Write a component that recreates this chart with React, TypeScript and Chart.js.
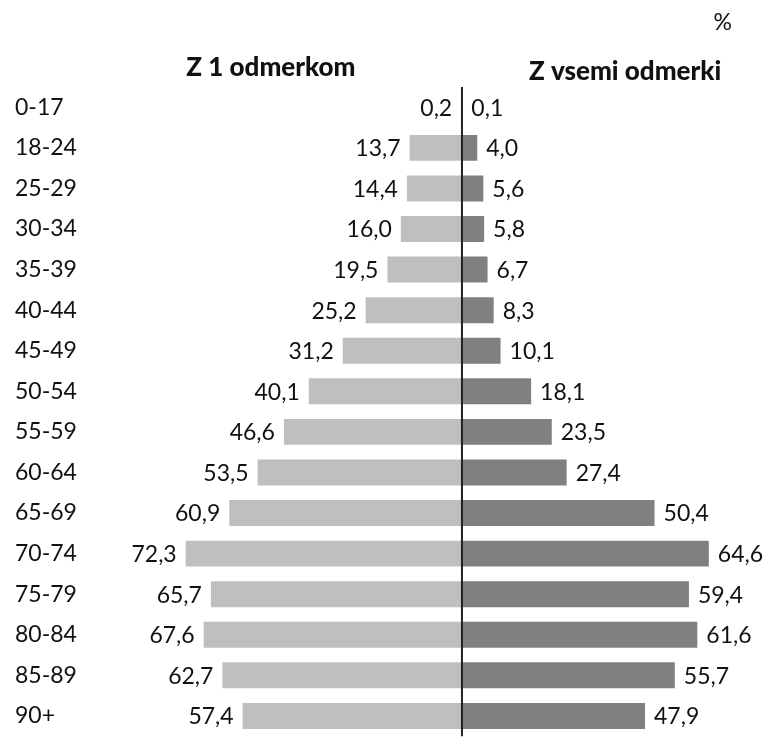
import React, { useEffect, useRef } from "react";
import { Chart, registerables } from "chart.js";

Chart.register(...registerables);

const categories = [
  "0-17", "18-24", "25-29", "30-34", "35-39", "40-44", "45-49", "50-54",
  "55-59", "60-64", "65-69", "70-74", "75-79", "80-84", "85-89", "90+",
];
const oneDose = [0.2, 13.7, 14.4, 16.0, 19.5, 25.2, 31.2, 40.1, 46.6, 53.5, 60.9, 72.3, 65.7, 67.6, 62.7, 57.4];
const allDoses = [0.1, 4.0, 5.6, 5.8, 6.7, 8.3, 10.1, 18.1, 23.5, 27.4, 50.4, 64.6, 59.4, 61.6, 55.7, 47.9];
const leftTitle = "Z 1 odmerkom";
const rightTitle = "Z vsemi odmerki";
const unitLabel = "%";

const FONT = "Lato, 'Noto Sans', sans-serif";

const fmt = (v: number) => v.toFixed(1).replace(".", ",");

const annotPlugin = {
  id: "annot",
  afterDatasetsDraw(chart: any) {
    const { ctx, chartArea, scales } = chart;
    ctx.save();
    // center line
    const x0 = scales.x.getPixelForValue(0);
    ctx.strokeStyle = "#222";
    ctx.lineWidth = 2;
    ctx.beginPath();
    ctx.moveTo(x0, chartArea.top);
    ctx.lineTo(x0, chartArea.bottom);
    ctx.stroke();

    // value labels
    ctx.font = `23px ${FONT}`;
    ctx.fillStyle = "#111";
    ctx.textBaseline = "middle";
    chart.data.datasets.forEach((ds: any, di: number) => {
      const meta = chart.getDatasetMeta(di);
      const src = di === 0 ? oneDose : allDoses;
      meta.data.forEach((el: any, i: number) => {
        const txt = fmt(src[i]);
        if (di === 0) {
          ctx.textAlign = "right";
          ctx.fillText(txt, el.x - 9, el.y + 1);
        } else {
          ctx.textAlign = "left";
          ctx.fillText(txt, el.x + 9, el.y + 1);
        }
      });
    });

    // headers
    ctx.font = `900 26px ${FONT}`;
    ctx.textAlign = "center";
    ctx.textBaseline = "alphabetic";
    ctx.fillStyle = "#111";
    ctx.fillText(leftTitle, scales.x.getPixelForValue(-50), 76);
    ctx.fillText(rightTitle, scales.x.getPixelForValue(42.7), 80);

    ctx.font = `23px ${FONT}`;
    ctx.textAlign = "right";
    ctx.fillText(unitLabel, 732, 30);
    ctx.restore();
  },
};

export default function App() {
  const ref = useRef<HTMLCanvasElement | null>(null);
  useEffect(() => {
    if (!ref.current) return;
    const chart = new Chart(ref.current, {
      type: "bar",
      data: {
        labels: categories,
        datasets: [
          {
            label: leftTitle,
            data: oneDose.map((v) => -v),
            backgroundColor: "#bfbfbf",
            barPercentage: 0.64,
            categoryPercentage: 1,
          },
          {
            label: rightTitle,
            data: allDoses,
            backgroundColor: "#808080",
            barPercentage: 0.64,
            categoryPercentage: 1,
          },
        ],
      },
      options: {
        indexAxis: "y",
        animation: false,
        responsive: false,
        maintainAspectRatio: false,
        layout: { padding: { left: 15, right: 7, top: 87, bottom: 6 } },
        plugins: {
          legend: { display: false },
          tooltip: { enabled: false },
        },
        scales: {
          x: {
            display: false,
            stacked: true,
            min: -84,
            max: 78,
          },
          y: {
            stacked: true,
            grid: { display: false },
            border: { display: false },
            ticks: {
              crossAlign: "far",
              color: "#111",
              font: { family: FONT, size: 23 },
              padding: 0,
            },
            afterFit: (scale: any) => {
              scale.width = 126;
            },
          },
        },
      },
      plugins: [annotPlugin],
    });
    return () => chart.destroy();
  }, []);
  return (
    <div style={{ position: "fixed", left: 0, top: 0, width: 767, height: 750, background: "#fff" }}>
      <canvas ref={ref} width={767} height={750} style={{ width: 767, height: 750, display: "block" }} />
    </div>
  );
}
